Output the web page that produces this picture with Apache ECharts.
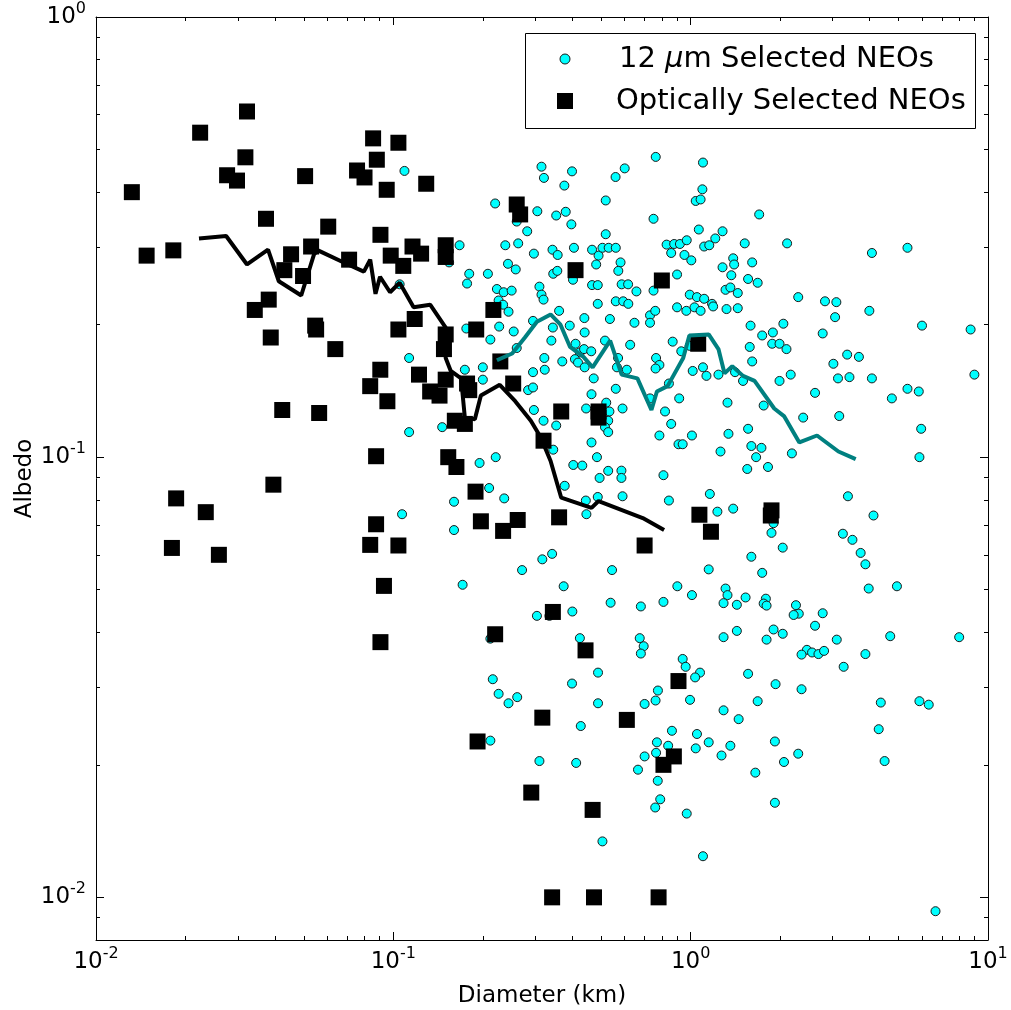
<!DOCTYPE html>
<html>
<head>
<meta charset="utf-8">
<script src="https://cdn.jsdelivr.net/npm/echarts@6/dist/echarts.min.js"></script>
<style>
html, body { margin: 0; padding: 0; background: #fff; }
#main { width: 1011px; height: 1010px; }
</style>
</head>
<body>
<div id="main"></div>
<script>
// 12 um selected NEOs: [diameter km, albedo]
var wiseNeos = [
    [0.109,0.447],[0.315,0.457],[0.321,0.431],[0.399,0.446],[0.376,0.414],[0.559,0.433],[0.60,0.453],[0.763,0.481],
    [0.22,0.377],[0.305,0.362],[0.353,0.354],[0.38,0.361],[0.397,0.338],[0.518,0.383],[0.75,0.348],[0.26,0.343],
    [0.282,0.326],[0.518,0.321],[0.167,0.303],[0.238,0.303],[0.263,0.306],[0.297,0.29],[0.343,0.296],[0.357,0.288],
    [0.405,0.299],[0.466,0.296],[0.49,0.287],[0.505,0.299],[0.53,0.299],[0.56,0.299],[0.481,0.274],[0.581,0.277],
    [0.571,0.265],[0.83,0.304],[0.88,0.305],[0.92,0.305],[0.97,0.311],[0.86,0.291],[0.953,0.288],[1.005,0.28],
    [0.154,0.277],[0.243,0.275],[0.258,0.267],[0.18,0.261],[0.208,0.261],[0.177,0.248],[0.345,0.261],[0.356,0.265],
    [0.402,0.253],[0.31,0.244],[0.466,0.246],[0.487,0.246],[0.586,0.247],[0.616,0.247],[0.657,0.238],[0.90,0.26],
    [0.75,0.239],[0.993,0.234],[0.223,0.241],[0.235,0.237],[0.25,0.239],[0.226,0.227],[0.234,0.222],[0.244,0.214],
    [0.315,0.234],[0.32,0.228],[0.487,0.223],[0.56,0.226],[0.593,0.226],[0.617,0.223],[0.535,0.206],[0.439,0.207],
    [0.361,0.215],[0.295,0.204],[0.392,0.199],[0.647,0.202],[0.73,0.21],[0.76,0.215],[0.73,0.202],[0.90,0.219],
    [0.967,0.215],[0.105,0.247],[0.176,0.196],[0.227,0.198],
    [1.10,0.467],[1.095,0.406],[1.04,0.382],[1.08,0.385],[1.70,0.356],[1.065,0.329],[1.28,0.326],[1.21,0.314],
    [1.11,0.301],[1.155,0.303],[1.52,0.306],[2.11,0.306],[4.07,0.291],[5.36,0.299],[1.28,0.27],[1.39,0.283],
    [1.40,0.274],[1.61,0.277],[1.37,0.259],[1.56,0.254],[1.68,0.249],[1.31,0.24],[1.36,0.243],[1.44,0.236],
    [1.05,0.231],[1.11,0.229],[1.18,0.223],[1.19,0.22],[1.03,0.219],[1.08,0.215],[1.32,0.217],[1.44,0.218],
    [2.30,0.231],[2.83,0.226],[3.09,0.225],[3.06,0.208],[3.99,0.215],[1.59,0.199],[2.05,0.201],[6.00,0.199],
    [8.74,0.195],[1.89,0.192],[1.74,0.189],[2.78,0.191],[1.58,0.178],[1.88,0.181],[1.99,0.181],[2.10,0.176],
    [3.36,0.171],[3.68,0.169],[3.02,0.163],[1.61,0.165],[1.10,0.16],[1.016,0.157],[1.13,0.153],[1.24,0.154],
    [1.41,0.156],[1.50,0.149],[2.17,0.154],[1.99,0.149],[3.13,0.151],[3.42,0.152],[4.07,0.151],[9.0,0.154],
    [2.62,0.14],[5.36,0.143],[5.85,0.141],[4.75,0.136],[1.33,0.133],[1.76,0.131],[2.39,0.123],[3.16,0.124],
    [5.96,0.116],[1.01,0.112],[1.34,0.113],[1.56,0.116],[1.60,0.106],[1.73,0.105],[1.66,0.10],[1.26,0.103],
    [2.19,0.102],[1.55,0.094],[1.82,0.095],[5.88,0.10],[1.16,0.0825],[3.38,0.0815],[1.23,0.0752],[1.39,0.0764],
    [4.12,0.0737],[1.90,0.0708],[1.87,0.0673],[3.25,0.067],[3.50,0.0649],[2.04,0.0623],[1.60,0.0594],[3.73,0.0606],
    [3.87,0.0571],[1.15,0.0556],[1.74,0.0546],[1.31,0.0503],[1.33,0.0486],[3.97,0.0503],[4.94,0.0509],[1.01,0.0486],
    [1.53,0.048],[1.43,0.0462],[1.29,0.0466],[1.79,0.0477],[1.76,0.0465],[1.80,0.046],[2.26,0.0461],[2.31,0.0441],
    [2.22,0.0438],[2.78,0.0442],[2.62,0.0414],[1.43,0.0403],[1.90,0.0406],[2.04,0.0397],[1.29,0.039],[1.80,0.0385],
    [3.10,0.0385],[4.69,0.0392],[8.00,0.039],[2.46,0.0365],[2.36,0.0356],[2.56,0.036],[2.69,0.0357],[2.81,0.0363],
    [3.87,0.0357],[3.27,0.0334],[1.075,0.0324],[1.035,0.0316],[1.56,0.0322],[1.93,0.0305],[2.36,0.0297],[0.995,0.0281],
    [1.68,0.0279],[1.29,0.0266],[1.45,0.0254],[4.36,0.0277],[5.88,0.0279],[6.32,0.0274],[4.29,0.0241],[1.05,0.0235],
    [1.15,0.0225],[1.04,0.0218],[1.36,0.0221],[1.27,0.021],[1.92,0.0226],[2.30,0.0212],[2.06,0.0203],[4.49,0.0204],
    [1.65,0.0192],[1.92,0.0164],[1.10,0.0124],[6.66,0.0093],
    [0.212,0.0387],[0.424,0.0388],[0.674,0.0388],[0.695,0.0372],[0.68,0.0358],[0.94,0.0348],[0.962,0.0334],[0.488,0.0324],
    [0.216,0.0313],[0.399,0.0306],[0.226,0.029],[0.261,0.0285],[0.244,0.0276],[0.488,0.0276],[0.70,0.0275],[0.762,0.028],
    [0.776,0.0295],[0.427,0.0245],[0.865,0.0239],[0.212,0.0227],[0.77,0.0225],[0.84,0.0221],[0.765,0.0213],[0.70,0.0209],
    [0.31,0.0204],[0.412,0.0202],[0.665,0.0195],[0.775,0.0184],[0.79,0.0167],[0.76,0.016],[0.97,0.0155],[0.505,0.0134],
    [0.212,0.185],[0.254,0.193],[0.344,0.197],[0.44,0.192],[0.113,0.168],[0.174,0.158],[0.20,0.16],[0.26,0.177],
    [0.322,0.168],[0.323,0.158],[0.34,0.184],[0.37,0.165],[0.41,0.181],[0.424,0.173],[0.408,0.167],[0.418,0.164],
    [0.44,0.16],[0.438,0.176],[0.463,0.174],[0.515,0.184],[0.626,0.18],[0.57,0.168],[0.565,0.16],[0.61,0.158],
    [0.765,0.168],[0.785,0.162],[0.762,0.159],[0.87,0.183],[0.93,0.174],[0.993,0.179],[0.295,0.156],[0.20,0.15],
    [0.284,0.142],[0.295,0.144],[0.472,0.151],[0.56,0.143],[0.464,0.139],[0.73,0.136],[0.915,0.136],[0.845,0.147],
    [0.297,0.128],[0.32,0.121],[0.353,0.118],[0.445,0.129],[0.52,0.133],[0.533,0.127],[0.528,0.121],[0.515,0.117],
    [0.528,0.114],[0.59,0.129],[0.82,0.127],[0.86,0.119],[0.785,0.112],[0.91,0.107],[0.94,0.107],[0.146,0.117],
    [0.113,0.114],[0.195,0.097],[0.221,0.10],[0.345,0.104],[0.464,0.108],[0.484,0.10],[0.403,0.096],[0.432,0.0957],
    [0.494,0.0897],[0.528,0.0931],[0.585,0.0932],[0.585,0.0897],[0.81,0.091],[0.21,0.0851],[0.236,0.0806],[0.16,0.0792],
    [0.107,0.0742],[0.16,0.0683],[0.377,0.0861],[0.444,0.0797],[0.446,0.0742],[0.487,0.0812],[0.59,0.0815],[0.845,0.0797],
    [0.342,0.0603],[0.317,0.0586],[0.271,0.0554],[0.544,0.0554],[0.171,0.0513],[0.374,0.0509],[0.902,0.0509],[0.538,0.0467],
    [0.68,0.0458],[0.81,0.0469],[0.304,0.0436],[0.335,0.0436],[0.40,0.0446]
];

// optically selected NEOs: [diameter km, albedo]
var opticalNeos = [
    [0.0132,0.40],[0.0148,0.287],[0.0182,0.295],[0.0224,0.546],[0.0276,0.437],[0.0298,0.425],[0.0322,0.61],[0.0318,0.48],
    [0.0505,0.435],[0.0373,0.348],[0.0604,0.334],[0.0453,0.289],[0.043,0.266],[0.0529,0.301],[0.0497,0.258],[0.071,0.281],
    [0.0342,0.216],[0.0381,0.228],[0.0546,0.199],[0.0855,0.53],[0.088,0.474],[0.0755,0.448],[0.080,0.432],[0.095,0.405],
    [0.0905,0.32],[0.098,0.287],[0.104,0.518],[0.129,0.418],[0.26,0.375],[0.267,0.356],[0.116,0.301],[0.124,0.29],
    [0.150,0.303],[0.150,0.285],[0.108,0.272],[0.41,0.266],[0.80,0.252],[0.217,0.216],[0.118,0.206],[0.104,0.195],
    [0.19,0.195],[0.150,0.19],[0.148,0.176],[0.229,0.165],[0.122,0.154],[0.150,0.150],[0.133,0.141],[0.143,0.138],
    [0.177,0.147],[0.180,0.142],[0.253,0.147],[0.161,0.121],[0.174,0.119],[0.367,0.127],[0.49,0.127],[0.49,0.123],
    [0.32,0.109],[0.153,0.100],[0.163,0.095],[0.189,0.0835],[0.197,0.0715],[0.234,0.068],[0.262,0.072],[0.361,0.073],
    [0.104,0.063],[0.70,0.063],[0.344,0.0445],[0.22,0.0396],[0.0387,0.187],[0.055,0.195],[0.0638,0.176],[0.0904,0.158],
    [0.0836,0.145],[0.0955,0.134],[0.0423,0.128],[0.0563,0.126],[0.0875,0.1005],[0.0395,0.0866],[0.0186,0.0806],[0.0234,0.075],
    [0.018,0.0622],[0.0259,0.060],[0.0875,0.0704],[0.0836,0.0632],[0.093,0.051],[0.0905,0.038],[0.443,0.0364],[0.91,0.031],
    [0.317,0.0256],[0.61,0.0253],[0.192,0.0226],[0.878,0.0209],[0.81,0.020],[0.291,0.0173],[0.468,0.0158],[0.342,0.01],
    [0.473,0.01],[0.78,0.01],[1.06,0.181],[1.07,0.074],[1.17,0.0677],[1.87,0.0757],[1.86,0.0737]
];

// running medians
var opticalTrend = [
    [0.0222,0.314],[0.0274,0.318],[0.0322,0.274],[0.0379,0.296],[0.0412,0.251],[0.049,0.233],[0.0541,0.289],[0.0558,0.295],
    [0.0704,0.274],[0.0796,0.264],[0.0836,0.281],[0.0871,0.235],[0.0902,0.257],[0.0975,0.237],[0.105,0.249],[0.117,0.219],
    [0.133,0.222],[0.150,0.197],[0.150,0.168],[0.156,0.157],[0.169,0.151],[0.174,0.123],[0.188,0.122],[0.197,0.138],
    [0.228,0.146],[0.257,0.134],[0.29,0.121],[0.313,0.111],[0.338,0.098],[0.367,0.0809],[0.464,0.0767],[0.49,0.0795],
    [0.69,0.0727],[0.814,0.0683]
];
var wiseTrend = [
    [0.223,0.166],[0.251,0.172],[0.277,0.187],[0.304,0.203],[0.338,0.211],[0.365,0.20],[0.393,0.178],[0.436,0.169],
    [0.468,0.16],[0.536,0.184],[0.586,0.154],[0.662,0.151],[0.738,0.128],[0.77,0.141],[0.836,0.145],[0.944,0.168],
    [0.99,0.189],[1.15,0.19],[1.24,0.176],[1.30,0.155],[1.38,0.161],[1.50,0.153],[1.64,0.149],[1.91,0.129],
    [2.06,0.124],[2.32,0.108],[2.66,0.112],[3.14,0.103],[3.59,0.099]
];

// ticks
var xMajor = [0.01, 0.1, 1, 10];
var xMinor = [0.02,0.03,0.04,0.05,0.06,0.07,0.08,0.09,0.2,0.3,0.4,0.5,0.6,0.7,0.8,0.9,2,3,4,5,6,7,8,9];
var yMajor = [0.01, 0.1, 1];
var yMinor = [0.008,0.009,0.02,0.03,0.04,0.05,0.06,0.07,0.08,0.09,0.2,0.3,0.4,0.5,0.6,0.7,0.8,0.9];

var font = 'DejaVu Sans';

function powLabel(v) {
    var e = Math.round(Math.log(v) / Math.LN10);
    return '{b|10}{s|' + e + '}';
}
var labelRich = {
    b: { fontSize: 23, fontFamily: font, color: '#000' },
    s: { fontSize: 16, fontFamily: font, color: '#000', padding: [0, 0, 16, 0] }
};

function makeAxis(kind, pos, ticks, len, main) {
    var ax = {
        type: 'log',
        logBase: 10,
        position: pos,
        min: kind == 'x' ? 0.01 : 0.008,
        max: kind == 'x' ? 10 : 1,
        splitLine: { show: false },
        axisLine: { show: main, onZero: false, lineStyle: { color: '#000', width: 1 } },
        axisTick: { show: true, inside: true, length: len, customValues: ticks, lineStyle: { color: '#000', width: 1 } },
        minorTick: { show: false },
        axisLabel: { show: false }
    };
    return ax;
}

var chart = echarts.init(document.getElementById('main'));

var xBottom = makeAxis('x', 'bottom', xMajor, 8, true);
xBottom.axisLabel = {
    show: true, customValues: xMajor, margin: 6,
    formatter: powLabel, rich: labelRich
};
xBottom.name = 'Diameter (km)';
xBottom.nameLocation = 'middle';
xBottom.nameGap = 45;
xBottom.nameTextStyle = { fontSize: 23, fontFamily: font, color: '#000' };

var yLeft = makeAxis('y', 'left', yMajor, 8, true);
yLeft.axisLabel = {
    show: true, customValues: yMajor, margin: 10,
    formatter: powLabel, rich: labelRich
};
yLeft.name = 'Albedo';
yLeft.nameLocation = 'middle';
yLeft.nameGap = 59;
yLeft.nameMoveOverlap = false;
yLeft.nameTextStyle = { fontSize: 23, fontFamily: font, color: '#000' };

var legendRich = {
    n: { fontSize: 29, fontFamily: font, color: '#000' },
    i: { fontSize: 29, fontFamily: font, fontStyle: 'italic', color: '#000' }
};

var option = {
    animation: false,
    backgroundColor: '#fff',
    grid: { left: 96, top: 17, width: 892, height: 923, containLabel: false, outerBoundsMode: 'none' },
    xAxis: [
        xBottom,
        makeAxis('x', 'bottom', xMinor, 4, false),
        makeAxis('x', 'top', xMajor, 8, true),
        makeAxis('x', 'top', xMinor, 4, false)
    ],
    yAxis: [
        yLeft,
        makeAxis('y', 'left', yMinor, 4, false),
        makeAxis('y', 'right', yMajor, 8, true),
        makeAxis('y', 'right', yMinor, 4, false)
    ],
    series: [
        {
            name: '12 μm Selected NEOs',
            type: 'scatter',
            data: wiseNeos,
            symbol: 'circle',
            symbolSize: 9,
            itemStyle: { color: '#00ffff', borderColor: '#1a1a1a', borderWidth: 1, opacity: 1 }
        },
        {
            name: 'Optically Selected NEOs',
            type: 'scatter',
            data: opticalNeos,
            symbol: 'rect',
            symbolSize: 16,
            itemStyle: { color: '#000', opacity: 1 }
        },
        {
            type: 'line',
            data: opticalTrend,
            showSymbol: false,
            symbol: 'none',
            lineStyle: { color: '#000', width: 4 }
        },
        {
            type: 'line',
            data: wiseTrend,
            showSymbol: false,
            symbol: 'none',
            lineStyle: { color: '#008080', width: 4 }
        }
    ],
    // legend box, drawn as in the original figure
    graphic: [
        {
            type: 'group', z: 100,
            children: [
                { type: 'rect', shape: { x: 525.5, y: 33.5, width: 450, height: 95 }, style: { fill: '#fff', stroke: '#000', lineWidth: 1 } },
                { type: 'circle', shape: { cx: 565, cy: 59, r: 5 }, style: { fill: '#00ffff', stroke: '#1a1a1a', lineWidth: 1 } },
                { type: 'rect', shape: { x: 557, y: 93, width: 16, height: 16 }, style: { fill: '#000' } },
                {
                    type: 'text', x: 619, y: 59,
                    style: {
                        text: '{n|12 }{i|μ}{n|m Selected NEOs}', verticalAlign: 'middle', rich: legendRich
                    }
                },
                {
                    type: 'text', x: 616, y: 101,
                    style: { text: '{n|Optically Selected NEOs}', verticalAlign: 'middle', rich: legendRich }
                }
            ]
        }
    ]
};
chart.setOption(option);
</script>
</body>
</html>
